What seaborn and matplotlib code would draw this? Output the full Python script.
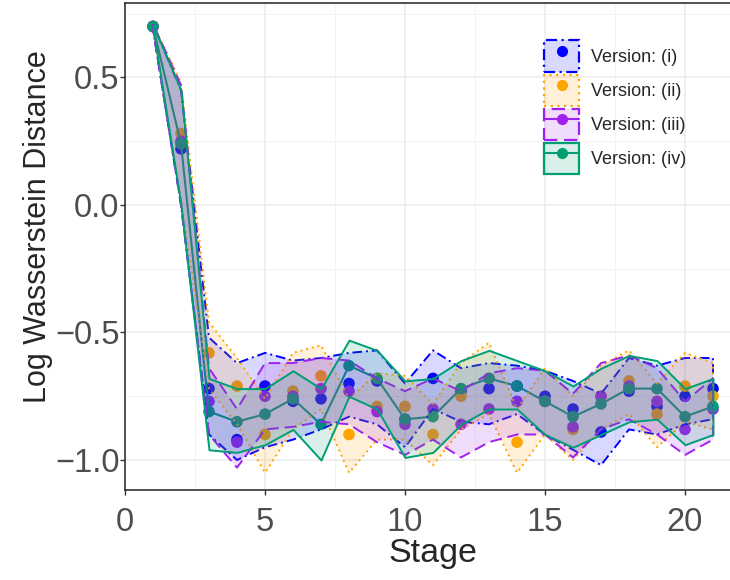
import matplotlib
matplotlib.use("Agg")
import matplotlib.pyplot as plt
from matplotlib.patches import Patch
from matplotlib.lines import Line2D
from matplotlib.colors import to_rgba
import seaborn as sns
import pandas as pd
import numpy as np

# stages 1..21
stages = list(range(1, 22))

# version (i)
mean_i = [0.70, 0.22, -0.72, -0.92, -0.71, -0.77, -0.76, -0.70, -0.69, -0.84, -0.68,
          -0.73, -0.72, -0.71, -0.75, -0.80, -0.89, -0.73, -0.79, -0.75, -0.72]
low_i = [0.69, 0.00, -0.90, -1.00, -0.95, -0.92, -0.88, -0.83, -0.86, -0.95, -0.80,
         -0.85, -0.86, -0.82, -0.90, -0.96, -1.02, -0.88, -0.90, -0.86, -0.84]
up_i = [0.71, 0.45, -0.52, -0.62, -0.58, -0.61, -0.60, -0.58, -0.57, -0.70, -0.57,
        -0.64, -0.62, -0.63, -0.65, -0.69, -0.74, -0.60, -0.63, -0.60, -0.60]

# version (ii)
mean_ii = [0.70, 0.28, -0.58, -0.71, -0.90, -0.73, -0.67, -0.90, -0.79, -0.79, -0.90,
           -0.75, -0.68, -0.93, -0.77, -0.88, -0.75, -0.69, -0.82, -0.71, -0.75]
low_ii = [0.69, 0.02, -0.72, -0.86, -1.05, -0.88, -0.80, -1.05, -0.92, -0.92, -1.02,
          -0.88, -0.82, -1.05, -0.90, -1.00, -0.88, -0.82, -0.95, -0.85, -0.88]
up_ii = [0.71, 0.48, -0.46, -0.60, -0.76, -0.58, -0.55, -0.76, -0.66, -0.67, -0.78,
         -0.62, -0.54, -0.80, -0.64, -0.75, -0.63, -0.57, -0.70, -0.58, -0.62]

# version (iii)
mean_iii = [0.70, 0.25, -0.77, -0.93, -0.75, -0.75, -0.72, -0.73, -0.81, -0.86, -0.80,
            -0.86, -0.80, -0.77, -0.77, -0.87, -0.75, -0.71, -0.77, -0.88, -0.80]
low_iii = [0.69, 0.00, -0.90, -1.03, -0.88, -0.87, -0.85, -0.86, -0.93, -0.98, -0.92,
           -0.99, -0.93, -0.90, -0.90, -0.99, -0.88, -0.84, -0.90, -0.98, -0.92]
up_iii = [0.71, 0.47, -0.64, -0.80, -0.62, -0.62, -0.60, -0.61, -0.68, -0.73, -0.68,
          -0.73, -0.66, -0.64, -0.65, -0.74, -0.62, -0.59, -0.64, -0.77, -0.68]

# version (iv)
mean_iv = [0.70, 0.24, -0.81, -0.85, -0.82, -0.76, -0.86, -0.63, -0.68, -0.84, -0.83,
           -0.72, -0.68, -0.71, -0.77, -0.83, -0.78, -0.72, -0.72, -0.83, -0.79]
low_iv = [0.695, 0.00, -0.96, -0.97, -0.94, -0.88, -1.00, -0.75, -0.80, -0.99, -0.97,
          -0.86, -0.80, -0.80, -0.90, -0.95, -0.90, -0.85, -0.84, -0.94, -0.90]
up_iv = [0.705, 0.45, -0.68, -0.72, -0.72, -0.65, -0.72, -0.53, -0.57, -0.69, -0.68,
         -0.61, -0.57, -0.61, -0.65, -0.71, -0.64, -0.59, -0.61, -0.72, -0.68]

versions = ["Version: (i)", "Version: (ii)", "Version: (iii)", "Version: (iv)"]
colors = ["#0000FF", "#FFA500", "#A020F0", "#009E73"]
styles = [(0, (5, 2, 1, 2)), (0, (1, 2)), (0, (6, 3)), "-"]

frames = []
for name, m, lo, hi in zip(versions,
                           [mean_i, mean_ii, mean_iii, mean_iv],
                           [low_i, low_ii, low_iii, low_iv],
                           [up_i, up_ii, up_iii, up_iv]):
    frames.append(pd.DataFrame({"Stage": stages, "mean": m, "low": lo, "up": hi, "version": name}))
df = pd.concat(frames, ignore_index=True)

sns.set_theme(style="whitegrid")
plt.rcParams["font.family"] = ["Liberation Sans", "DejaVu Sans"]

fig = plt.figure(figsize=(7.3, 5.8), dpi=100)
ax = fig.add_axes([125 / 730, 1 - 490 / 580, 616 / 730, 487 / 580])

palette = dict(zip(versions, colors))

# points (under the ribbons)
sns.scatterplot(data=df, x="Stage", y="mean", hue="version", palette=palette,
                s=70, edgecolor="none", legend=False, ax=ax, zorder=2)
# mean line for version (iv)
sns.lineplot(data=df[df["version"] == versions[3]], x="Stage", y="mean",
             color=colors[3], lw=1.5, legend=False, ax=ax, zorder=2)

# ribbons
for name, c, ls in zip(versions, colors, styles):
    d = df[df["version"] == name]
    ax.fill_between(d["Stage"], d["low"], d["up"], facecolor=to_rgba(c, 0.15),
                    edgecolor=c, linestyle=ls, linewidth=1.4, zorder=3)

ax.set_xlim(0, 22)
ax.set_ylim(-1.1176, 0.792)
ax.set_xticks([0, 5, 10, 15, 20])
ax.set_yticks([-1.0, -0.5, 0.0, 0.5])
ax.set_yticklabels(["\u22121.0", "\u22120.5", "0.0", "0.5"])
ax.set_xticks([2.5, 7.5, 12.5, 17.5], minor=True)
ax.set_yticks([-0.75, -0.25, 0.25, 0.75], minor=True)
ax.grid(which="major", color="#EBEBEB", lw=1.1)
ax.grid(which="minor", color="#F2F2F2", lw=0.7)
ax.set_axisbelow(True)
for sp in ax.spines.values():
    sp.set_color("#333333")
    sp.set_linewidth(1.2)
ax.tick_params(axis="both", which="major", labelsize=23.5, labelcolor="#4D4D4D",
               length=3.5, width=1, color="#333333", direction="out", bottom=True, left=True)
ax.tick_params(axis="x", which="major", pad=9)
ax.tick_params(axis="y", which="major", pad=0.5)
ax.tick_params(which="minor", length=0)
ax.set_xlabel("Stage", fontsize=24.5, labelpad=0)
ax.set_ylabel("Log Wasserstein Distance", fontsize=22)
ax.yaxis.set_label_coords(-0.117, 0.54)

# legend: ribbon key + point (+ line for iii, iv)
handles = []
for i, (c, ls) in enumerate(zip(colors, styles)):
    patch = Patch(facecolor=to_rgba(c, 0.15), edgecolor=c, linestyle=ls, linewidth=1.6)
    pt = Line2D([], [], color=c, marker="o", markersize=7,
                linestyle="-" if i >= 2 else "none", lw=1.5)
    handles.append((patch, pt))
leg = ax.legend(handles, versions, loc="upper left", bbox_to_anchor=(530 / 730, 1 - 26 / 580),
                bbox_transform=fig.transFigure, frameon=False, fontsize=13,
                handlelength=1.9, handleheight=2.3, labelspacing=0.15, handletextpad=0.7,
                borderpad=0.3)

fig.savefig("out.png", dpi=100)
